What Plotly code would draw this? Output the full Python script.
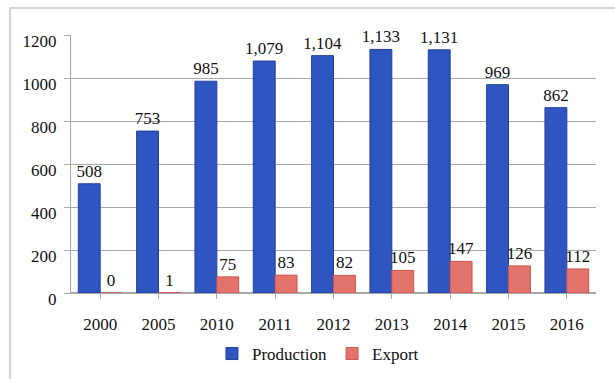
import plotly.graph_objects as go

years = ["2000", "2005", "2010", "2011", "2012", "2013", "2014", "2015", "2016"]
production = [508, 753, 985, 1079, 1104, 1133, 1131, 969, 862]
export = [0, 1, 75, 83, 82, 105, 147, 126, 112]

font_family = "'Liberation Serif', 'Times New Roman', Times, serif"
fs = 17

fig = go.Figure()
fig.add_trace(go.Bar(
    x=years, y=production, name="Production",
    marker=dict(color="#2f55c0", line=dict(color="#1f3f9a", width=1)),
    texttemplate="%{y:,}", textposition="outside", cliponaxis=False,
    constraintext="none",
    textfont=dict(family=font_family, size=fs, color="#111111"),
))
fig.add_trace(go.Bar(
    x=years, y=export, name="Export",
    marker=dict(color="#e4736b", line=dict(color="#c9564f", width=1)),
    texttemplate="%{y:,}", textposition="outside", cliponaxis=False,
    constraintext="none",
    textfont=dict(family=font_family, size=fs, color="#111111"),
))

fig.update_layout(
    width=615, height=379,
    margin=dict(l=71, r=19, t=35, b=86, autoexpand=False),
    paper_bgcolor="white", plot_bgcolor="white",
    barmode="group", bargap=0.25, bargroupgap=0.0,
    font=dict(family=font_family, size=fs, color="#111111"),
    legend=dict(
        orientation="h", xref="container", yref="container",
        x=0.517, xanchor="center", y=0.066, yanchor="middle",
        font=dict(family=font_family, size=fs, color="#111111"),
        itemwidth=30, traceorder="normal",
    ),
    xaxis=dict(
        automargin=False,
        showgrid=False, showline=True, linecolor="#a8a8a8", linewidth=1,
        ticks="outside", ticklen=5, tickcolor="#a8a8a8",
        ticklabelstandoff=11,
        tickfont=dict(family=font_family, size=fs, color="#111111"),
    ),
    yaxis=dict(
        automargin=False,
        range=[0, 1200], dtick=200, showgrid=True, gridcolor="#a8a8a8", gridwidth=1,
        zeroline=True, zerolinecolor="#a8a8a8",
        showline=True, linecolor="#a8a8a8", linewidth=1,
        ticks="outside", ticklen=6, tickcolor="#a8a8a8",
        ticklabelshift=6, ticklabelstandoff=4,
        tickfont=dict(family=font_family, size=fs, color="#111111"),
    ),
    shapes=[dict(
        type="rect", xref="paper", yref="paper",
        x0=-0.116, x1=1.06, y0=-0.40, y1=1.105,
        line=dict(color="#d4d4d4", width=2), fillcolor="rgba(0,0,0,0)", layer="below",
    )],
)

fig.write_html("out.html")
